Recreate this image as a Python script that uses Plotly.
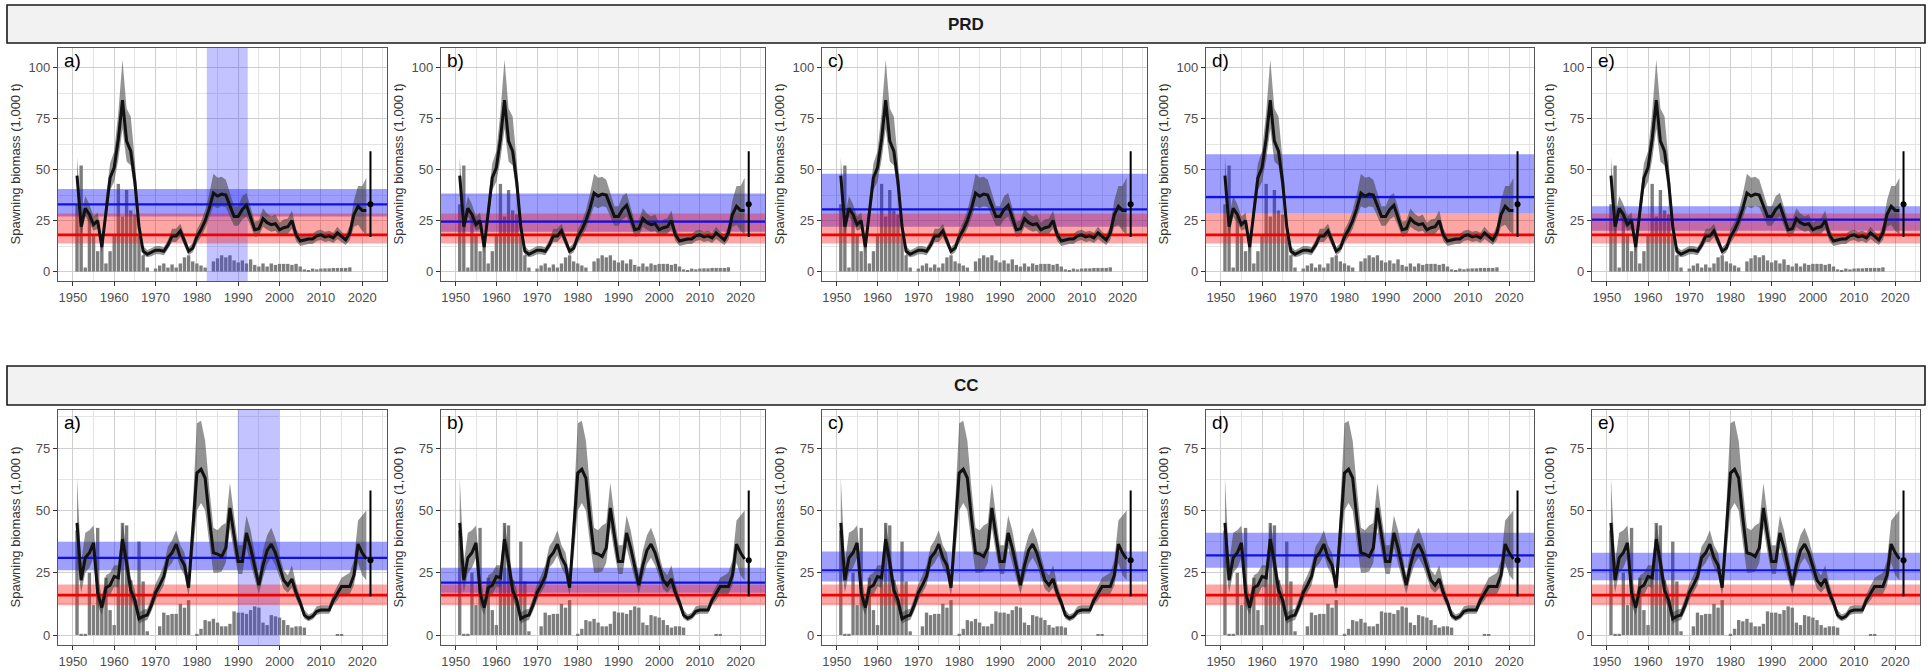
import plotly.graph_objects as go

# ---------------- data ----------------
years = list(range(1951, 2022))

# PRD spawning biomass (1,000 t), credible band, catches
prd_ssb = [47, 22, 31, 28, 23, 25, 12, 30, 46, 51,
           65, 84, 64, 59, 44, 22, 10, 8.5, 9.5, 10.5,
           10.5, 10, 13, 17.5, 17.5, 20, 15, 10, 11.5, 17,
           20.5, 25, 31, 38.5, 37, 38, 37.5, 32, 27, 27,
           30.5, 32.5, 27, 20.5, 21, 26, 24, 23, 23.5, 20.5,
           21.5, 22, 25, 18, 15, 15.5, 16, 16, 17.5, 18,
           17, 17.5, 16.5, 19, 17, 15.5, 19, 28, 32, 30,
           30]
prd_lo = [38, 18, 27, 24, 20, 21, 9, 25, 40, 44,
          55, 70, 54, 52, 38, 19, 8, 7, 7.5, 8.5,
          8.5, 8, 11, 14.5, 14.5, 17, 12.5, 8, 9.5, 14,
          17, 21, 26, 32, 31, 32, 31.5, 27, 22.5, 22.5,
          25.5, 27, 22.5, 17, 17.5, 22, 20.5, 19.5, 20, 17.5,
          18, 18.5, 21, 15, 12.5, 13, 13.5, 13.5, 15, 15.5,
          14.5, 15, 14, 16, 14.5, 13, 15.5, 22, 23, 20,
          18]
prd_hi = [56, 27, 37, 33, 27, 29, 15, 36, 53, 59,
          78, 104, 80, 76, 54, 27, 12.5, 10.5, 11.5, 12.5,
          12.5, 12, 15.5, 21, 21, 23.5, 18, 12, 14, 20.5,
          24.5, 30, 38, 48, 46, 46.5, 45, 38.5, 32, 32,
          37, 38.5, 32, 24.5, 25, 31, 28.5, 27, 28, 24,
          25.5, 26, 30, 21, 17.5, 18, 18.5, 18.5, 20, 20.5,
          19.5, 20, 19, 22, 19.5, 18, 22.5, 35, 42, 42,
          46]
prd_catch = [33, 52, 2, 27, 18, 10, 16, 4, 10, 18,
             43, 27, 40, 30, 28, 18, 8, 2, 0, 1.5,
             3, 4, 2, 3.5, 2, 4, 7, 8, 5, 4,
             3, 2, 0, 5, 6.5, 8, 7, 8, 5.5, 4.5,
             5.5, 4, 6, 3.3, 2.5, 4, 2.5, 4, 3.3, 3.8,
             3.8, 3.8, 3.3, 3.8, 2.5, 1.1, 0.8, 1.5, 1.1, 1.5,
             1.6, 1.6, 1.8, 1.8, 1.8, 1.8, 2.1, 0, 0, 0,
             0]
prd_proj_year = 2022
prd_proj = 33
prd_proj_lo = 17
prd_proj_hi = 59

# CC spawning biomass (1,000 t), credible band, catches
cc_ssb = [45, 22, 31, 33, 37, 17, 11, 19, 20, 23.5,
          23, 38.5, 29, 18, 14, 6.5, 7.5, 8, 12, 17,
          20, 23.5, 31, 33, 36.5, 31, 28, 19, 42, 65,
          66.5, 63, 47, 33, 32.5, 31.5, 35, 51, 40, 29.5,
          29.5, 41, 35, 27.5, 20, 28, 34, 36.5, 33, 27.5,
          22, 20, 22.5, 17, 13, 8, 6.7, 7.5, 9.5, 10,
          10, 10, 14, 16.5, 19.5, 19.5, 19.5, 24, 36.5, 33,
          30.5]
cc_lo = [30, 17, 25, 27, 31, 12, 8, 15, 16, 19.5,
         19, 33, 24, 14.5, 11, 4.5, 5.5, 6, 9.5, 14,
         17, 20, 27, 29, 32, 27, 24, 15.5, 32, 50,
         53, 50, 37, 25, 25, 25.5, 29, 43, 33, 24.5,
         24.5, 35, 29, 22.5, 16.5, 23, 28.5, 31, 28, 23,
         18.5, 17, 19, 14.5, 11, 6.5, 5.5, 6.2, 8, 8.5,
         8.5, 8.5, 12, 14, 16.5, 16.5, 16.5, 20, 29, 24,
         22]
cc_hi = [63, 29, 41, 42, 44, 24, 15, 24, 25, 28,
         28, 45, 35, 23, 18, 9, 10, 10.5, 15, 20.5,
         24, 28, 35.5, 38, 42, 36, 33, 23, 52, 85,
         86, 78, 59, 43, 42, 44, 45, 61, 48, 36,
         36, 48, 42, 33, 24, 34, 40, 43, 38.5, 32,
         26, 24, 28, 20.5, 15.5, 10, 8.2, 9, 11.5, 12,
         12, 12, 16.5, 19.5, 23, 24, 25, 30, 46, 48,
         50]
cc_catch = [42, 0.5, 0.5, 25, 12, 43, 11, 23, 10, 4,
            24, 45, 44, 22, 14, 37.5, 21.5, 1.5, 0, 0,
            3.5, 9, 8, 8.5, 8.5, 12.5, 11, 14, 0, 0.5,
            2.5, 6, 5.5, 6.5, 5, 3.5, 3.5, 4.5, 9.5, 9,
            9, 8.5, 10, 11.5, 11, 5, 4, 8, 7.5, 7,
            6, 4, 3, 3.5, 3.5, 3, 0, 0, 0, 0,
            0, 0, 0, 0.4, 0.4, 0, 0, 0, 0, 0,
            0]
cc_proj_year = 2022
cc_proj = 30
cc_proj_lo = 15.5
cc_proj_hi = 58

panel_labels = ["a)", "b)", "c)", "d)", "e)"]

# reference levels per panel (blue) and common limit level (red)
prd_blue = [33, 24.5, 30.5, 36.5, 25.5]
prd_blue_lo = [27, 19.5, 22, 28.5, 20]
prd_blue_hi = [40.5, 38.3, 48, 57.5, 32]
prd_red, prd_red_lo, prd_red_hi = 18, 13.8, 28.5

cc_blue = [31, 21, 26, 32, 26]
cc_blue_lo = [26, 17, 21.5, 27, 22]
cc_blue_hi = [37.3, 27, 33.5, 41, 33]
cc_red, cc_red_lo, cc_red_hi = 16, 12, 20.3

# reference period highlighted in panel a)
prd_period = (1982.4, 1992.3)
cc_period = (1989.9, 1999.9)

strip_titles = ["PRD", "CC"]
y_title = "Spawning biomass (1,000 t)"

# ---------------- layout geometry (pixels) ----------------
W, H = 1930, 670
cols_px = [(58, 387), (441, 765), (822, 1147), (1206, 1534), (1592, 1920)]
rows_px = [(48, 281), (410, 645)]
strips_px = [(5, 43), (366, 405)]
x_range = [1946.4, 2026.0]
y_ranges = [[-4.6, 109.6], [-4.0, 90.3]]
y_ticks = [[0, 25, 50, 75, 100], [0, 25, 50, 75]]

FONT = "Liberation Sans, Arial, sans-serif"
BLUE_FILL = "rgba(25,25,250,0.42)"
RED_FILL = "rgba(250,20,20,0.38)"
VBAND_FILL = "rgba(40,40,255,0.28)"

fig = go.Figure()
shapes, annotations = [], []

stocks = [
    dict(ssb=prd_ssb, lo=prd_lo, hi=prd_hi, catch=prd_catch,
         py=prd_proj_year, p=prd_proj, plo=prd_proj_lo, phi=prd_proj_hi,
         blue=prd_blue, blue_lo=prd_blue_lo, blue_hi=prd_blue_hi,
         red=prd_red, red_lo=prd_red_lo, red_hi=prd_red_hi, period=prd_period),
    dict(ssb=cc_ssb, lo=cc_lo, hi=cc_hi, catch=cc_catch,
         py=cc_proj_year, p=cc_proj, plo=cc_proj_lo, phi=cc_proj_hi,
         blue=cc_blue, blue_lo=cc_blue_lo, blue_hi=cc_blue_hi,
         red=cc_red, red_lo=cc_red_lo, red_hi=cc_red_hi, period=cc_period),
]


def band(xa, ya, x0, x1, y0, y1, color):
    return go.Scatter(x=[x0, x1, x1, x0, x0], y=[y0, y0, y1, y1, y0],
                      xaxis=xa, yaxis=ya, mode="lines", line=dict(width=0),
                      fill="toself", fillcolor=color, hoverinfo="skip",
                      showlegend=False)


k = 0
for r, st in enumerate(stocks):
    top, bot = rows_px[r]
    yr = y_ranges[r]
    for c in range(5):
        k += 1
        sfx = "" if k == 1 else str(k)
        xa, ya = "x" + sfx, "y" + sfx
        left, right = cols_px[c]

        # catches
        fig.add_trace(go.Bar(x=years, y=st["catch"], xaxis=xa, yaxis=ya,
                             width=0.82, marker=dict(color="#7d7d7d", line=dict(width=0)),
                             hoverinfo="skip", showlegend=False))
        # reference period (panel a only)
        if c == 0:
            fig.add_trace(band(xa, ya, st["period"][0], st["period"][1],
                               yr[0], yr[1], VBAND_FILL))
        # blue and red reference bands
        fig.add_trace(band(xa, ya, x_range[0], x_range[1],
                           st["blue_lo"][c], st["blue_hi"][c], BLUE_FILL))
        fig.add_trace(band(xa, ya, x_range[0], x_range[1],
                           st["red_lo"], st["red_hi"], RED_FILL))
        # credible band of biomass
        fig.add_trace(go.Scatter(x=years + years[::-1], y=st["hi"] + st["lo"][::-1],
                                 xaxis=xa, yaxis=ya, mode="lines", line=dict(width=0),
                                 fill="toself", fillcolor="rgba(60,60,60,0.55)",
                                 hoverinfo="skip", showlegend=False))
        # reference lines
        fig.add_trace(go.Scatter(x=x_range, y=[st["blue"][c]] * 2, xaxis=xa, yaxis=ya,
                                 mode="lines", line=dict(color="#1010e0", width=2.2),
                                 hoverinfo="skip", showlegend=False))
        fig.add_trace(go.Scatter(x=x_range, y=[st["red"]] * 2, xaxis=xa, yaxis=ya,
                                 mode="lines", line=dict(color="#f00000", width=2.6),
                                 hoverinfo="skip", showlegend=False))
        # biomass trajectory
        fig.add_trace(go.Scatter(x=years, y=st["ssb"], xaxis=xa, yaxis=ya,
                                 mode="lines", line=dict(color="#111111", width=3),
                                 hoverinfo="skip", showlegend=False))
        # projection with interval
        fig.add_trace(go.Scatter(x=[st["py"]], y=[st["p"]], xaxis=xa, yaxis=ya,
                                 mode="markers", marker=dict(color="black", size=6),
                                 error_y=dict(type="data", symmetric=False,
                                              array=[st["phi"] - st["p"]],
                                              arrayminus=[st["p"] - st["plo"]],
                                              width=0, thickness=2, color="black"),
                                 hoverinfo="skip", showlegend=False))

        fig.layout["xaxis" + sfx] = dict(
            domain=[left / W, right / W], anchor=ya, range=x_range,
            tickmode="linear", tick0=1950, dtick=10,
            ticks="outside", ticklen=4, tickcolor="#333333", tickwidth=1,
            tickfont=dict(family=FONT, size=13, color="#4d4d4d"),
            showgrid=True, gridcolor="#cfcfcf", gridwidth=1,
            minor=dict(dtick=5, tick0=1950, showgrid=True, gridcolor="#e4e4e4", gridwidth=1),
            showline=True, mirror=True, linecolor="#555555", linewidth=1.2,
            zeroline=False, fixedrange=True)
        fig.layout["yaxis" + sfx] = dict(
            domain=[1 - bot / H, 1 - top / H], anchor=xa, range=yr,
            tickmode="array", tickvals=y_ticks[r],
            ticks="outside", ticklen=4, tickcolor="#333333", tickwidth=1,
            tickfont=dict(family=FONT, size=13, color="#4d4d4d"),
            showgrid=True, gridcolor="#cfcfcf", gridwidth=1,
            minor=dict(tickvals=[v + 12.5 for v in y_ticks[r]], showgrid=True,
                       gridcolor="#e4e4e4", gridwidth=1),
            showline=True, mirror=True, linecolor="#555555", linewidth=1.2,
            zeroline=False, fixedrange=True)

        annotations.append(dict(text=panel_labels[c], xref=xa + " domain", yref=ya + " domain",
                                x=0.012, y=1.0, xanchor="left", yanchor="top", showarrow=False,
                                font=dict(family=FONT, size=19, color="black")))
        annotations.append(dict(text=y_title, xref="paper", yref="paper",
                                x=(left - 43) / W, y=1 - (top + bot) / 2 / H,
                                xanchor="center", yanchor="middle", textangle=-90,
                                showarrow=False, font=dict(family=FONT, size=13, color="#333333")))

    # strip header
    s0, s1 = strips_px[r]
    shapes.append(dict(type="rect", xref="paper", yref="paper",
                       x0=7 / W, x1=1925 / W, y0=1 - s1 / H, y1=1 - s0 / H,
                       fillcolor="#f2f2f2", line=dict(color="#1a1a1a", width=1.6), layer="above"))
    annotations.append(dict(text="<b>" + strip_titles[r] + "</b>", xref="paper", yref="paper",
                            x=966 / W, y=1 - (s0 + s1) / 2 / H, xanchor="center", yanchor="middle",
                            showarrow=False, font=dict(family=FONT, size=17, color="#1a1a1a")))

fig.update_layout(width=W, height=H, margin=dict(l=0, r=0, t=0, b=0),
                  paper_bgcolor="white", plot_bgcolor="white", barmode="overlay",
                  shapes=shapes, annotations=annotations, showlegend=False)

fig.write_html("out.html", config={"displayModeBar": False})
